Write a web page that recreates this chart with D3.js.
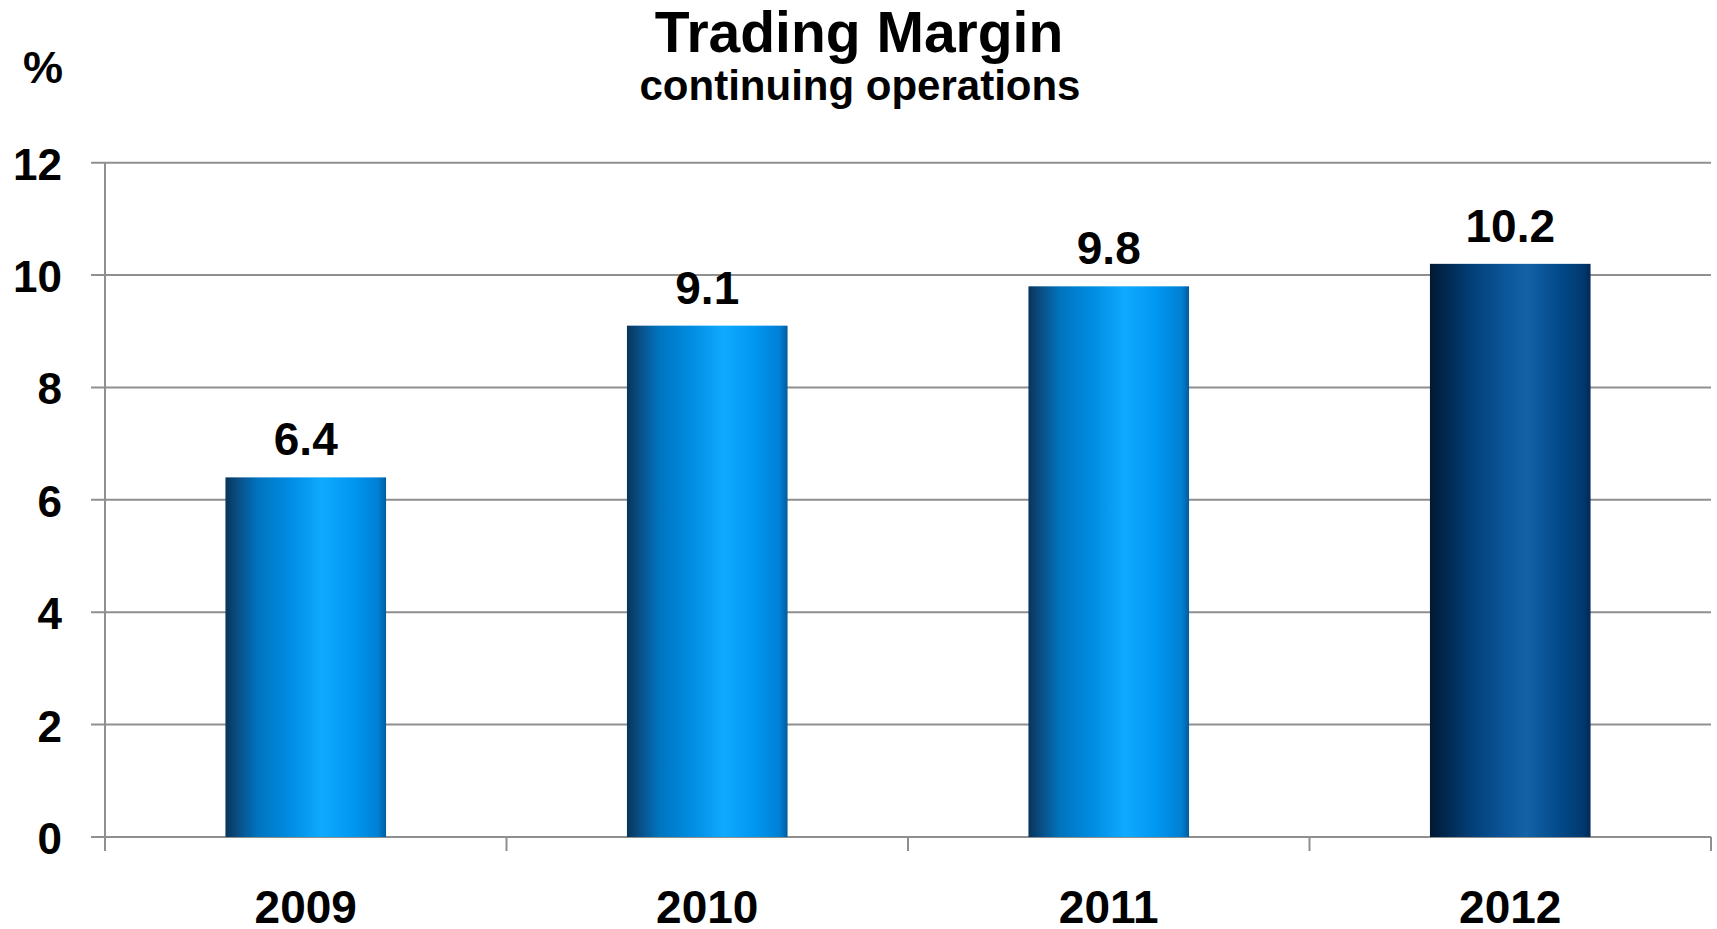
<!DOCTYPE html>
<html>
<head>
<meta charset="utf-8">
<script src="https://cdn.jsdelivr.net/npm/d3@7"></script>
<style>
  html, body { margin: 0; padding: 0; background: #fff; }
  svg { display: block; font-family: "Liberation Sans", Arial, sans-serif; font-weight: bold; }
</style>
</head>
<body>
<svg id="chart" width="1717" height="929"></svg>
<script>
// Trading margin by year, continuing operations (%)
const years = ["2009", "2010", "2011", "2012"];
const margins = [6.4, 9.1, 9.8, 10.2];
const yTicks = [0, 2, 4, 6, 8, 10, 12];
const barStyles = ["light", "light", "light", "dark"];

const svg = d3.select("#chart");
const plot = { left: 105, right: 1711, top: 162.7, bottom: 837 };

const x = d3.scaleBand()
  .domain(years)
  .range([plot.left, plot.right])
  .paddingInner(0.6)
  .paddingOuter(0.3);

const y = d3.scaleLinear()
  .domain([0, 12])
  .range([plot.bottom, plot.top]);

// Horizontal shading for the bars
const defs = svg.append("defs");
const gradients = {
  light: [
    [0, "#06345a"], [0.08, "#0a4f86"], [0.2, "#0074bf"], [0.4, "#008ce2"],
    [0.6, "#0faaff"], [0.8, "#0096f0"], [0.95, "#0080d4"], [1, "#005da0"]
  ],
  dark: [
    [0, "#011932"], [0.1, "#02284f"], [0.25, "#023e76"], [0.45, "#0a5497"],
    [0.6, "#1462a8"], [0.8, "#024a8a"], [0.95, "#013a70"], [1, "#012a55"]
  ]
};
Object.entries(gradients).forEach(([name, stops]) => {
  const g = defs.append("linearGradient")
    .attr("id", "bar-" + name)
    .attr("x1", "0%").attr("x2", "100%").attr("y1", "0%").attr("y2", "0%");
  stops.forEach(([o, c]) => g.append("stop").attr("offset", o).attr("stop-color", c));
});

// Gridlines with outward ticks on the left
const gridColor = "#8f8f8f";
svg.append("g")
  .selectAll("line")
  .data(yTicks)
  .join("line")
  .attr("x1", plot.left - 14)
  .attr("x2", plot.right)
  .attr("y1", d => y(d))
  .attr("y2", d => y(d))
  .attr("stroke", gridColor)
  .attr("stroke-width", 2);

// Y tick labels
svg.append("g")
  .selectAll("text")
  .data(yTicks)
  .join("text")
  .attr("x", 62)
  .attr("y", d => y(d) + 17)
  .attr("text-anchor", "end")
  .attr("font-size", 44)
  .attr("fill", "#000")
  .text(d => d);

// Vertical axis line
svg.append("line")
  .attr("x1", plot.left).attr("x2", plot.left)
  .attr("y1", plot.top).attr("y2", plot.bottom + 14)
  .attr("stroke", gridColor)
  .attr("stroke-width", 2);

// Category boundary ticks below the baseline
const step = x.step();
const boundaries = d3.range(years.length + 1).map(i => plot.left + i * step);
svg.append("g")
  .selectAll("line")
  .data(boundaries.slice(1))
  .join("line")
  .attr("x1", d => d).attr("x2", d => d)
  .attr("y1", plot.bottom)
  .attr("y2", plot.bottom + 14)
  .attr("stroke", gridColor)
  .attr("stroke-width", 2);

// Bars
const data = years.map((yr, i) => ({ year: yr, value: margins[i], style: barStyles[i] }));
svg.append("g")
  .selectAll("rect")
  .data(data)
  .join("rect")
  .attr("x", d => x(d.year))
  .attr("width", x.bandwidth())
  .attr("y", d => y(d.value))
  .attr("height", d => y(0) - y(d.value))
  .attr("fill", d => "url(#bar-" + d.style + ")");

// Value labels above the bars
svg.append("g")
  .selectAll("text")
  .data(data)
  .join("text")
  .attr("x", d => x(d.year) + x.bandwidth() / 2)
  .attr("y", d => y(d.value) - 22)
  .attr("text-anchor", "middle")
  .attr("font-size", 46)
  .attr("fill", "#000")
  .text(d => d3.format(".1f")(d.value));

// Year labels
svg.append("g")
  .selectAll("text")
  .data(years)
  .join("text")
  .attr("x", d => x(d) + x.bandwidth() / 2)
  .attr("y", 923)
  .attr("text-anchor", "middle")
  .attr("font-size", 46)
  .attr("fill", "#000")
  .text(d => d);

// Titles and unit
svg.append("text")
  .attr("x", 859).attr("y", 52)
  .attr("text-anchor", "middle")
  .attr("font-size", 57)
  .text("Trading Margin");

svg.append("text")
  .attr("x", 860).attr("y", 100)
  .attr("text-anchor", "middle")
  .attr("font-size", 42)
  .text("continuing operations");

svg.append("text")
  .attr("x", 23).attr("y", 83)
  .attr("font-size", 45)
  .text("%");
</script>
</body>
</html>
